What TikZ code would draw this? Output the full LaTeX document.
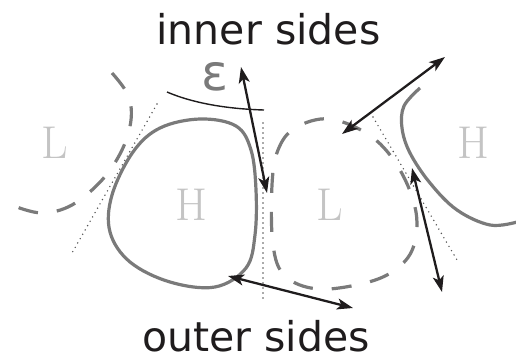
\documentclass[tikz,border=0pt]{standalone}
\usepackage{fontspec}
\usepackage{tikz}
\usepackage{xcolor}
\usetikzlibrary{arrows.meta}
\newfontfamily\sidefont{DejaVu Sans}
\definecolor{curve}{HTML}{7A7A7A}
\definecolor{region}{HTML}{C4C4C4}
\definecolor{ink}{HTML}{1F1C1D}

\begin{document}
\begin{tikzpicture}[x=1pt, y=-1pt,
      side/.style={font=\sidefont\fontsize{41}{48}\selectfont, text=ink, anchor=base, inner sep=0pt},
      centre/.style={font=\fontsize{46}{50}\selectfont, text=region, anchor=base, inner sep=0pt},
      front/.style={line width=3.2pt, color=curve},
      trough/.style={front, dash pattern=on 20pt off 19pt},
      axisline/.style={line width=1.6pt, color=curve!70!black, line cap=round, dash pattern=on 0pt off 5pt},
      gaparrow/.style={line width=2.3pt, color=ink, {Stealth[length=16pt, width=11pt, inset=4pt]}-{Stealth[length=16pt, width=11pt, inset=4pt]}}]
    \useasboundingbox (0,0) rectangle (516,361);
    \node[side] (inner) at (268.5,45) {inner sides};
    \node[side] (outer) at (256,351) {outer sides};
    \node[font=\sidefont\fontsize{50}{56}\selectfont, text=curve, anchor=base, inner sep=0pt] (eps) at (215,90) {ε};
    \node[centre] (lowa) at (55,158) {L};
    \node[centre] (higha) at (191,220) {H};
    \node[centre] (lowb) at (330,220) {L};
    \node[centre] (highb) at (473,158) {H};
    \draw[trough] plot[smooth, tension=0.6] coordinates {(112,73) (128,95) (131,120) (122,150) (102,180) (72,205) (42,213) (14,206)};
    \draw[front] plot[smooth cycle, tension=0.6] coordinates {(200,119) (236,126) (251,150) (256,190) (255,235) (246,268) (215,287) (170,282) (130,262) (110,232) (112,195) (133,152) (160,128)};
    \draw[trough] plot[smooth cycle, tension=0.6] coordinates {(272,185) (278,150) (295,128) (330,119) (372,137) (400,170) (416,212) (413,248) (395,270) (365,283) (318,289) (285,276) (273,245)};
    \draw[front] plot[smooth, tension=0.6] coordinates {(420,88) (404,106) (402,128) (410,153) (430,183) (457,210) (490,225) (517,222)};
    \draw[axisline] (157,104) -- (72,253);
    \draw[axisline] (263,123) -- (263,298);
    \draw[axisline] (373,117) -- (457,260);
    \draw[line width=1.4pt, color=ink] (167,92) .. controls (195,104) and (230,109) .. (264,110);
    \coordinate (ia) at (241,67);
    \coordinate (ib) at (267,193);
    \coordinate (ic) at (445,57);
    \coordinate (id) at (342,134);
    \coordinate (oa) at (412,168);
    \coordinate (ob) at (442,292);
    \coordinate (oc) at (228,276);
    \coordinate (od) at (353,308);
    \draw[gaparrow] (ia) -- (ib);
    \draw[gaparrow] (ic) -- (id);
    \draw[gaparrow] (oa) -- (ob);
    \draw[gaparrow] (oc) -- (od);
  \end{tikzpicture}
\end{document}
